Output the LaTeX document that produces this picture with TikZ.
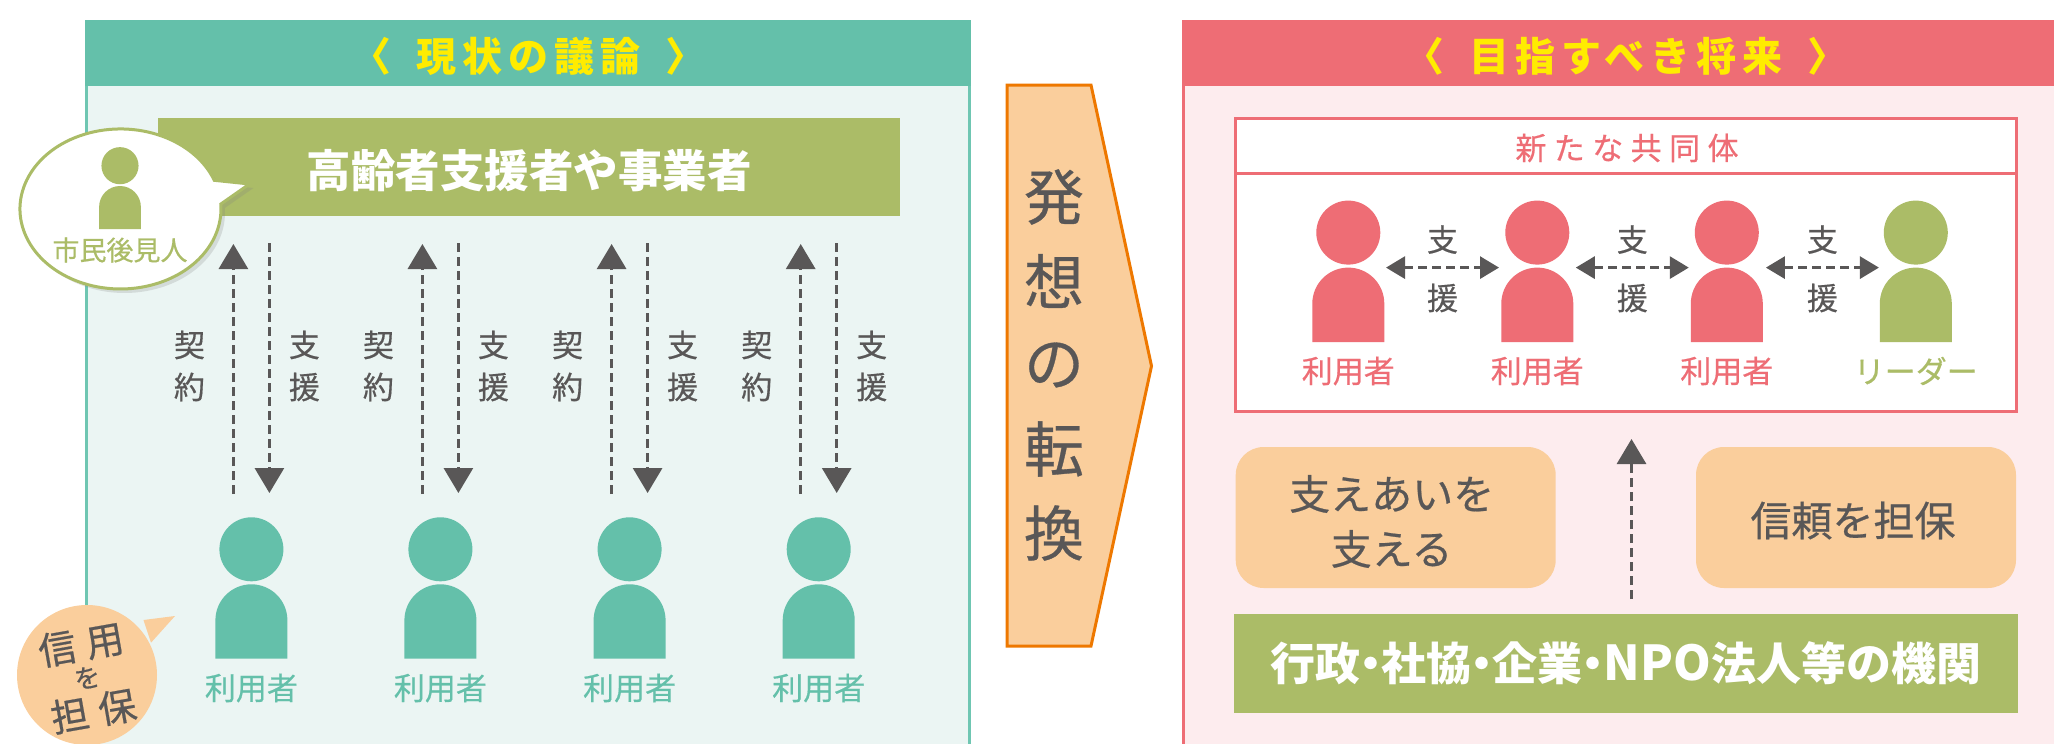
\documentclass[tikz,border=0pt]{standalone}
\usepackage{fontspec}
\setmainfont{Noto Sans CJK JP}[UprightFeatures={FakeBold=0.5}]
\usetikzlibrary{arrows.meta,shadows}

\definecolor{tealmain}{HTML}{64C0AA}
\definecolor{tealline}{HTML}{6FC6B2}
\definecolor{tealpale}{HTML}{EBF5F3}
\definecolor{rosemain}{HTML}{EE6D75}
\definecolor{rosepale}{HTML}{FDECEE}
\definecolor{olivemain}{HTML}{ABBC67}
\definecolor{orangepale}{HTML}{FACE9C}
\definecolor{orangeline}{HTML}{EE7800}
\definecolor{graytext}{HTML}{595757}
\definecolor{headyellow}{HTML}{FFEC00}

\newcommand{\fsz}[1]{\fontsize{#1}{#1}\selectfont}

\tikzset{
  pics/person/.style={code={
    \fill[#1] (0,0) circle [radius=32];
    \fill[#1] (-36,-109.4) -- (-36,-71) arc [start angle=180,end angle=0,radius=36] -- (36,-109.4) -- cycle;
  }},
  headtext/.style={text=headyellow,font=\fsz{40}\bfseries\addfontfeature{LetterSpace=15},inner sep=0pt},
  nametext/.style={font=\fsz{31},inner sep=0pt},
  wordtext/.style={text=graytext,font=\fontsize{31}{42}\selectfont,align=center,inner sep=0pt},
  flow/.style={graytext,line width=3pt,dash pattern=on 9pt off 5pt},
  upflow/.style={flow,-{Triangle[length=25pt,width=29pt]}},
  bothflow/.style={flow,{Triangle[length=19pt,width=22pt]}-{Triangle[length=19pt,width=22pt]}},
  softbox/.style={fill=orangepale,rounded corners=28pt,minimum width=320pt,minimum height=141pt,inner sep=0pt},
  softtext/.style={text=graytext,font=\fontsize{41}{55}\selectfont,align=center,inner sep=0pt},
  barbox/.style={fill=olivemain,text=white,font=\bfseries,inner sep=0pt}
}

\begin{document}
\begin{tikzpicture}[x=1pt,y=1pt]
  \useasboundingbox (0,0) rectangle (2054,-744);

  % left panel
  \draw[line width=3pt,tealline,fill=tealpale] (86.5,-60) rectangle (969.5,-770);
  \fill[tealmain] (85,-20) rectangle (971,-86);
  \node[headtext] (nowhead) at (528.5,-56) {〈\kern25pt現状の議論\kern25pt〉};

  \node[barbox,minimum width=742pt,minimum height=98pt,text height=40pt,text depth=0pt,font=\fsz{44.5}\bfseries] (supportbar) at (529,-167) {高齢者支援者や事業者};

  \foreach[count=\i] \x in {251.4,440.4,629.6,818.7} {
    \pic at (\x,-549.3) {person=tealmain};
    \node[nametext,text=tealmain] (user\i) at (\x,-688) {利用者};
    \coordinate (contractlow\i) at (\x-18,-494);
    \coordinate (contracttop\i) at (\x-18,-244);
    \coordinate (helptop\i) at (\x+18,-243);
    \coordinate (helplow\i) at (\x+18,-493);
    \draw[upflow] (contractlow\i) -- (contracttop\i);
    \draw[upflow] (helptop\i) -- (helplow\i);
    \node[wordtext] (contract\i) at (\x-62,-366) {契\\約};
    \node[wordtext] (help\i) at (\x+53,-366) {支\\援};
  }

  % citizen bubble
  \path[fill=white,draw=olivemain,line width=3pt,line join=miter,drop shadow={shadow xshift=4pt,shadow yshift=-4pt,opacity=.22}]
    (214.3,-180.3) arc [start angle=21,end angle=363.5,x radius=100.5,y radius=80] -- (249.5,-184) -- cycle;
  \pic[scale=.58] at (120,-165.7) {person=olivemain};
  \node[inner sep=0pt,text=olivemain,font=\fsz{27}] (citizen) at (120,-250) {市民後見人};

  % trust bubble
  \fill[orangepale] (87,-675) circle [radius=70];
  \fill[orangepale] (143.5,-620) -- (175,-616) -- (151,-642.7) -- cycle;
  \node[rotate=10,inner sep=0pt,text=graytext,font=\fsz{38}] (trusta) at (81,-644.5) {信\kern10pt用};
  \node[rotate=10,inner sep=0pt,text=graytext,font=\fsz{26}] (trustb) at (87.3,-677.7) {を};
  \node[rotate=10,inner sep=0pt,text=graytext,font=\fsz{38}] (trustc) at (93.5,-711) {担\kern10pt保};

  % center arrow
  \draw[line width=3pt,orangeline,fill=orangepale] (1007,-85) -- (1091,-85) -- (1151.5,-366) -- (1091,-646) -- (1007,-646) -- cycle;
  \foreach[count=\i] \c in {発,想,の,転,換} {
    \node[inner sep=0pt,text=graytext,font=\fsz{60}] (turn\i) at (1054,-197-84*\i+84) {\c};
  }

  % right panel
  \draw[line width=3pt,rosemain,fill=rosepale] (1183.5,-60) rectangle (2070,-770);
  \fill[rosemain] (1182,-20) rectangle (2054,-86);
  \node[headtext] (futurehead) at (1626,-56) {〈\kern25pt目指すべき将来\kern25pt〉};

  \draw[line width=3pt,rosemain,fill=white] (1235,-118.7) rectangle (2016.7,-411);
  \draw[line width=3pt,rosemain] (1235,-173) -- (2016.7,-173);
  \node[inner sep=0pt,text=rosemain,font=\fsz{31}\addfontfeature{LetterSpace=24}] (community) at (1627,-148) {新たな共同体};

  \foreach[count=\i] \x in {1348.3,1537.3,1726.8} {
    \pic at (\x,-232.6) {person=rosemain};
    \node[nametext,text=rosemain] (member\i) at (\x,-371) {利用者};
  }
  \pic at (1915.8,-232.6) {person=olivemain};
  \node[nametext,text=olivemain] (leader) at (1915.8,-371) {リーダー};

  \foreach[count=\i] \x in {1442.5,1632.3,1822.4} {
    \coordinate (pairl\i) at (\x-56.5,-267.6);
    \coordinate (pairr\i) at (\x+56.5,-267.6);
    \draw[bothflow] (pairl\i) -- (pairr\i);
    \node[wordtext] (pairtop\i) at (\x,-239.6) {支};
    \node[wordtext] (pairlow\i) at (\x,-298) {援};
  }

  \node[softbox] (mutual) at (1395.7,-517.5) {};
  \node[softtext,yshift=-4pt,xshift=-4pt] (mutualtext) at (mutual) {支えあいを\\支える};
  \node[softbox] (trust) at (1856,-517.5) {};
  \node[softtext,yshift=-3pt,xshift=-3pt] (trusttext) at (trust) {信頼を担保};

  \node[barbox,minimum width=784pt,minimum height=99pt,font=\fsz{45}\bfseries] (agency) at (1626,-663) {行政\kern-12pt・\kern-12pt社協\kern-12pt・\kern-12pt企業\kern-12pt・\kern-12pt{\fsz{48}NPO}法人等の機関};
  \coordinate (agencyup) at (1631.5,-599);
  \coordinate (communitydown) at (1631.5,-439);
  \draw[upflow] (agencyup) -- (communitydown);
\end{tikzpicture}
\end{document}
